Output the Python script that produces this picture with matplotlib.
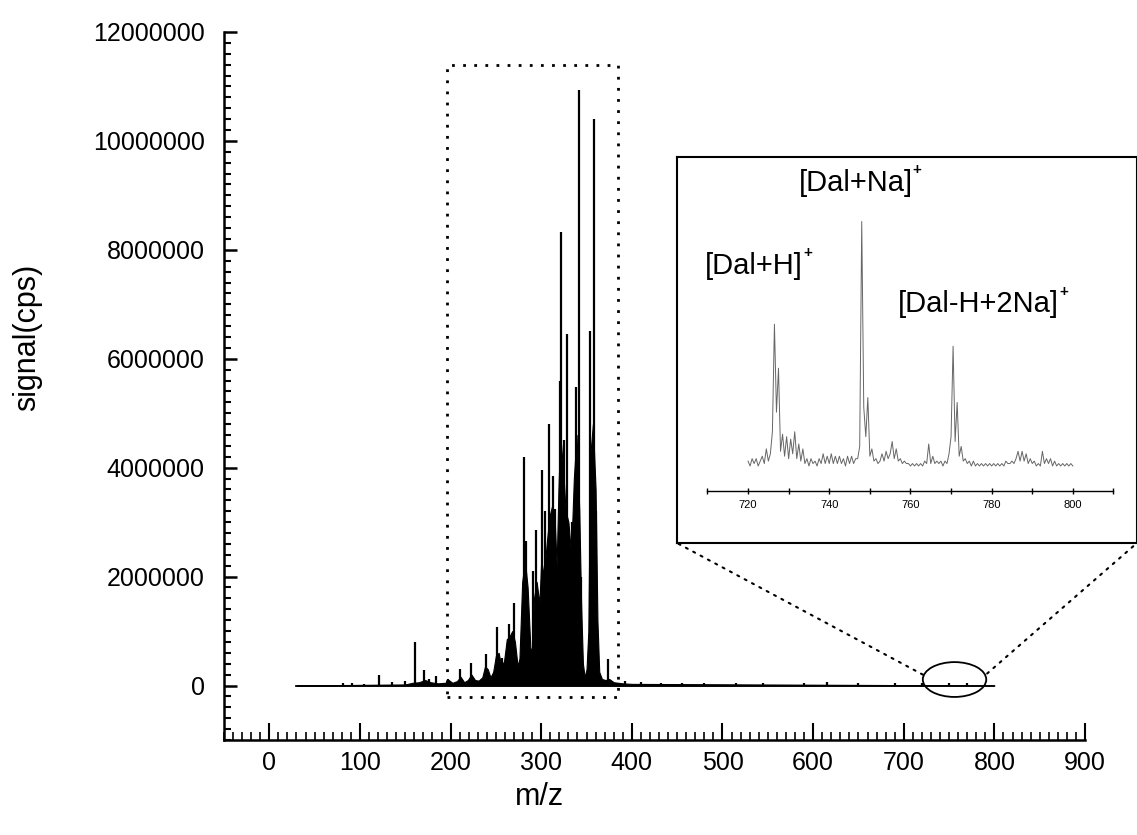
import numpy as np
import matplotlib
matplotlib.use('Agg')
import matplotlib.pyplot as plt
from matplotlib.ticker import MultipleLocator, FuncFormatter
from matplotlib.patches import Rectangle, Ellipse, ConnectionPatch

plt.rcParams['font.family'] = ['Liberation Sans', 'DejaVu Sans']

# --- main spectrum (intensity in millions of cps) ---
spectrum_range = [30, 800]

peak_mz = [81.5, 91, 105, 121.5, 135, 150, 161, 171, 176, 183.5, 197.5, 210, 222.5,
           239, 251.5, 257, 264, 269.5, 281, 283.5, 291, 294, 300.5, 302, 304,
           308.6, 310, 313.5, 315, 320.7, 322.3, 325, 328, 334, 338.4, 341.6, 344,
           354, 358, 360, 373.8,
           392, 410, 432, 455, 480, 515, 545, 590, 615, 650, 690, 720, 750, 770]
peak_int = [0.05, 0.04, 0.03, 0.2, 0.07, 0.08, 0.79, 0.29, 0.12, 0.17, 0.12, 0.31, 0.42,
            0.57, 1.07, 0.5, 1.13, 1.51, 4.2, 2.66, 2.1, 2.85, 3.95, 2.1, 3.2,
            4.81, 3.15, 3.85, 3.25, 5.6, 8.32, 4.5, 6.45, 3.0, 5.49, 10.94, 2.0,
            6.51, 10.41, 3.2, 0.49,
            0.08, 0.06, 0.05, 0.04, 0.04, 0.04, 0.05, 0.05, 0.07, 0.04, 0.04, 0.04, 0.04, 0.04]

env_mz = [30, 150, 158, 165, 172, 178, 186, 194, 198, 202, 207, 211, 215, 219, 223, 227,
          231, 235, 238, 241, 244, 247, 250, 253, 256, 259, 262, 265, 268, 271, 274, 276,
          279, 282, 285, 288, 290, 292, 295, 298, 300, 303, 306, 309, 312, 315, 317, 319,
          321, 324, 327, 330, 333, 336, 339, 342, 344, 346, 348, 350, 352, 354, 357, 360,
          362, 364, 367, 371, 375, 380, 390, 400, 800]
env_int = [0, 0.02, 0.05, 0.06, 0.1, 0.06, 0.04, 0.05, 0.1, 0.05, 0.08, 0.16, 0.06, 0.1, 0.2, 0.1,
           0.09, 0.15, 0.35, 0.3, 0.15, 0.25, 0.55, 0.6, 0.35, 0.45, 0.85, 0.9, 1.0, 0.8, 0.35, 0.5,
           1.9, 2.3, 1.8, 0.7, 0.6, 1.6, 1.9, 1.5, 2.3, 2.0, 2.6, 3.1, 3.3, 3.0, 2.2, 3.6,
           4.6, 4.0, 3.2, 3.0, 2.4, 3.8, 4.6, 3.2, 1.5, 0.4, 0.15, 0.3, 1.0, 4.2, 4.8, 3.6,
           1.2, 0.25, 0.12, 0.1, 0.12, 0.06, 0.04, 0.03, 0]

# zoom box and marked region
box_mz = [196, 385]
box_int = [-0.22, 11.4]
mark_center = (756, 0.11)
mark_size = (70, 0.64)

# --- inset spectrum (relative units) ---
inset_mz = np.arange(720, 800.5, 0.5)
inset_int = [2, 0, 3, 1, 3, 0, 2, 4, 1, 7, 2, 5, 14, 58, 22, 40, 6, 13, 4, 12,
             3, 11, 5, 14, 3, 9, 2, 7, 1, 3, 0, 3, 1, 2, 0, 3, 1, 5, 1, 4,
             1, 5, 1, 4, 1, 4, 1, 3, 0, 4, 1, 4, 1, 3, 3, 8, 100, 24, 12, 28,
             4, 7, 2, 3, 1, 2, 5, 2, 6, 3, 5, 10, 3, 7, 2, 3, 1, 2, 1, 1,
             0, 1, 0, 1, 0, 1, 0, 2, 1, 9, 1, 4, 1, 2, 1, 2, 0, 2, 1, 5,
             12, 49, 10, 26, 4, 8, 2, 3, 1, 2, 0, 2, 0, 1, 0, 1, 0, 1, 0, 1,
             0, 1, 0, 1, 0, 1, 0, 2, 1, 1, 2, 1, 3, 6, 2, 6, 2, 5, 1, 3,
             1, 2, 0, 1, 0, 6, 1, 3, 1, 3, 0, 2, 0, 1, 0, 1, 0, 1, 0, 1,
             0]
ion_labels = ['[Dal+H]', '[Dal+Na]', '[Dal-H+2Na]']
ion_pos = [(709.4, 78.6), (732.4, 112.6), (757.0, 62.9)]

M = 1e6
dots = (0, (1, 3))

fig = plt.figure(figsize=(11.37, 8.35), dpi=100)
ax = fig.add_axes([0.197, 0.1138, 0.7573, 0.8479])

ax.plot(spectrum_range, [0, 0], color='black', lw=1.3)
ax.fill_between(env_mz, 0, np.array(env_int) * M, color='black', lw=0.8)
ax.vlines(peak_mz, 0, np.array(peak_int) * M, color='black', lw=1.6)

ax.add_patch(Rectangle((box_mz[0], box_int[0] * M), box_mz[1] - box_mz[0],
                       (box_int[1] - box_int[0]) * M, fill=False, ls=dots, lw=2, color='black'))
ax.add_patch(Ellipse((mark_center[0], mark_center[1] * M), mark_size[0], mark_size[1] * M,
                     fill=False, lw=1.3, color='black'))

ax.set_xlim(-50, 900)
ax.set_ylim(-1 * M, 12 * M)
ax.spines['top'].set_visible(False)
ax.spines['right'].set_visible(False)
ax.spines['left'].set_linewidth(1.8)
ax.spines['bottom'].set_linewidth(1.8)

ax.xaxis.set_major_locator(MultipleLocator(100))
ax.xaxis.set_minor_locator(MultipleLocator(10))
ax.yaxis.set_major_locator(MultipleLocator(2 * M))
ax.yaxis.set_minor_locator(MultipleLocator(0.2 * M))
ax.yaxis.set_major_formatter(FuncFormatter(lambda v, p: '%d' % v))

ax.tick_params(axis='both', which='both', direction='in')
ax.tick_params(axis='x', which='major', length=12, width=1.5, pad=8, labelsize=18)
ax.tick_params(axis='x', which='minor', length=6, width=1.2)
ax.tick_params(axis='y', which='major', length=9, width=1.8, pad=14, labelsize=18)
ax.tick_params(axis='y', which='minor', length=5, width=1.5)

ax.set_ylabel('signal(cps)', fontsize=22)
ax.yaxis.set_label_coords(-0.211, 0.568)
ax.set_xlabel('m/z', fontsize=22)
ax.xaxis.set_label_coords(0.367, -0.059)

# inset frame
frame = fig.add_axes([0.5954, 0.3497, 0.4046, 0.4623])
frame.set_xticks([])
frame.set_yticks([])
for s in frame.spines.values():
    s.set_linewidth(1.5)

ins = fig.add_axes([0.6222, 0.3497, 0.3571, 0.4623])
ins.patch.set_visible(False)
ins.plot(inset_mz, inset_int, color='0.4', lw=0.7)
ins.set_xlim(710, 810)
ins.set_ylim(-31.5, 126.4)
for s in ['left', 'top', 'right']:
    ins.spines[s].set_visible(False)
ins.spines['bottom'].set_position(('data', -10.2))
ins.spines['bottom'].set_linewidth(1.0)
ins.set_yticks([])
ins.xaxis.set_major_locator(MultipleLocator(20))
ins.xaxis.set_minor_locator(MultipleLocator(10))
ins.tick_params(axis='x', which='both', direction='inout', length=5, width=1.0, labelsize=8, pad=4)

for lab, (x, y) in zip(ion_labels, ion_pos):
    t = ins.text(x, y, lab, fontsize=21, ha='left', va='baseline')
    ins.annotate('+', xy=(1.0, 0.95), xycoords=t, xytext=(0, 0), textcoords='offset points',
                 fontsize=11, fontweight='bold', ha='left', va='center')

for xy, corner in [((721, 0.2 * M), (0, 0)), ((792, 0.22 * M), (1, 0))]:
    con = ConnectionPatch(xyA=xy, coordsA=ax.transData, xyB=corner, coordsB=frame.transAxes,
                          ls=dots, lw=1.5, color='black')
    fig.add_artist(con)

fig.savefig('out.png', dpi=100, facecolor='white')
